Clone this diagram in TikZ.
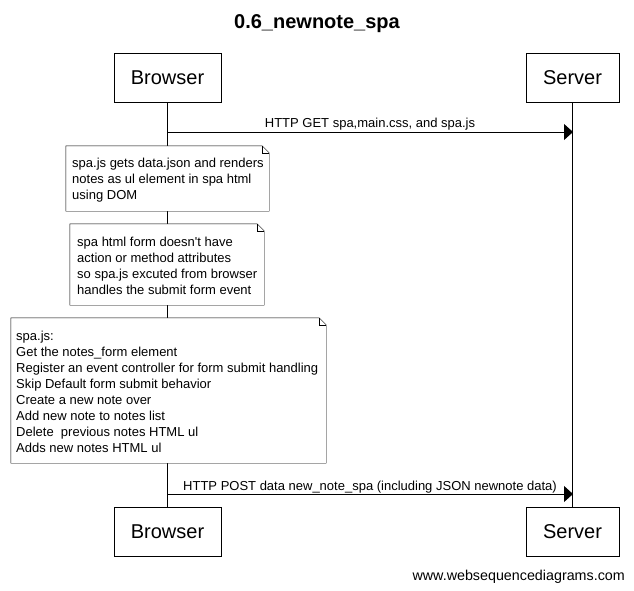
\documentclass[tikz,border=0pt]{standalone}
\usepackage{fontspec}
\setmainfont{Liberation Sans}
\usetikzlibrary{arrows.meta,fit}
\newcommand\notefold[2]{% node name, fold size
  \draw[fill=white] (#1.south west) -- (#1.north west) -- ([xshift=-#2]#1.north east) -- ([yshift=-#2]#1.north east) -- (#1.south east) -- cycle;
  \draw ([xshift=-#2]#1.north east) |- ([yshift=-#2]#1.north east);
}
\begin{document}
\begin{tikzpicture}[x=1pt,y=-1pt,
  actor/.style={draw,fill=white,line width=0.8pt,minimum width=#1,minimum height=49,inner sep=0,font=\fontsize{20}{24}\selectfont},
  notetext/.style={anchor=north west,inner sep=0,align=left,font=\fontsize{13}{16}\selectfont},
  msg/.style={line width=0.8pt,-{Triangle[length=9pt,width=16pt]}},
  msglabel/.style={font=\fontsize{13}{16}\selectfont,inner sep=0,anchor=base},
  lifeline/.style={line width=0.8pt}]
\useasboundingbox (0,0) rectangle (634,591);
\node[font=\bfseries\fontsize{20}{24}\selectfont,anchor=base] (title) at (317,29) {0.6\_newnote\_spa};
% actors
\node[actor=107] (b1) at (167.5,77.5) {Browser};
\node[actor=93] (s1) at (572.5,77.5) {Server};
\node[actor=107] (b2) at (167.5,531.5) {Browser};
\node[actor=93] (s2) at (572.5,531.5) {Server};
\draw[lifeline] (b1.south) -- (b2.north);
\draw[lifeline] (s1.south) -- (s2.north);
% message 1
\coordinate (m1a) at (168,132);
\coordinate (m1b) at (573,132);
\draw[msg] (m1a) -- (m1b);
\node[msglabel] (l1) at (370,128) {HTTP GET spa,main.css, and spa.js};
% note 1
\path (66,146) coordinate (n1nw) (269,211) coordinate (n1se);
\node[draw=none,fit=(n1nw)(n1se),inner sep=0] (n1) {};
\notefold{n1}{7}
\node[notetext] (t1) at (72,158) {spa.js gets data.json and renders\\notes as ul element in spa html\\using DOM};
% note 2
\path (70,224) coordinate (n2nw) (264,305) coordinate (n2se);
\node[draw=none,fit=(n2nw)(n2se),inner sep=0] (n2) {};
\notefold{n2}{7}
\node[notetext] (t2) at (77,237) {spa html form doesn\textquotesingle t have\\action or method attributes\\so spa.js excuted from browser\\handles the submit form event};
% note 3
\path (11,318) coordinate (n3nw) (326,463) coordinate (n3se);
\node[draw=none,fit=(n3nw)(n3se),inner sep=0] (n3) {};
\notefold{n3}{7}
\node[notetext] (t3) at (16,331) {spa.js:\\Get the notes\_form element\\Register an event controller for form submit handling\\Skip Default form submit behavior\\Create a new note over\\Add new note to notes list\\Delete\ \ previous notes HTML ul\\Adds new notes HTML ul};
% message 2
\coordinate (m2a) at (168,494);
\coordinate (m2b) at (573,494);
\draw[msg] (m2a) -- (m2b);
\node[msglabel] (l2) at (370,490) {HTTP POST data new\_note\_spa (including JSON newnote data)};
% footer
\node[font=\fontsize{14.3}{17}\selectfont,anchor=base east,inner sep=0] (foot) at (625,580) {www.websequencediagrams.com};
\end{tikzpicture}
\end{document}
